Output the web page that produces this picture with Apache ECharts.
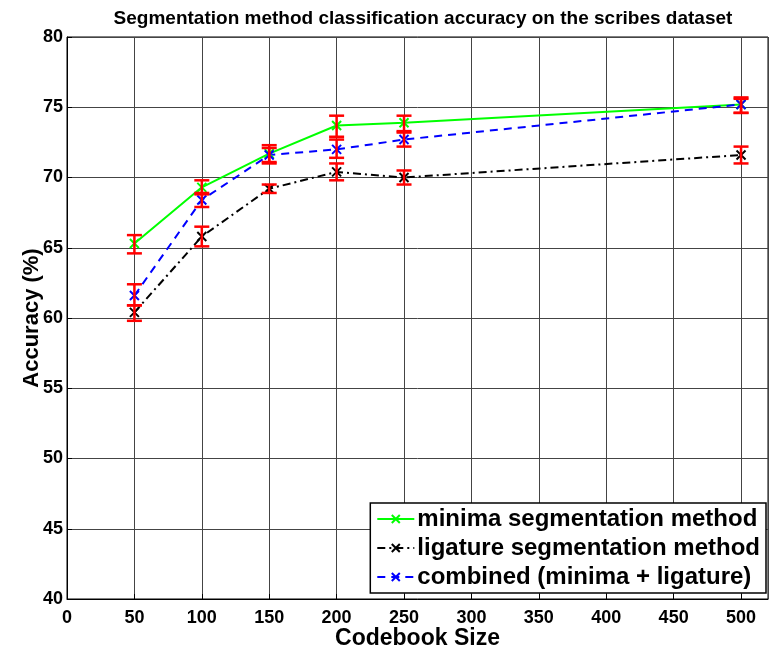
<!DOCTYPE html>
<html>
<head>
<meta charset="utf-8">
<script src="https://cdn.jsdelivr.net/npm/echarts@6/dist/echarts.min.js"></script>
<style>
  html, body { margin: 0; padding: 0; background: #fff; }
  #main { width: 769px; height: 653px; }
</style>
</head>
<body>
<div id="main"></div>
<script>
// codebook sizes (x)
var codebook = [50, 100, 150, 200, 250, 500];

// accuracy values per method
var minimaAcc = [65.3, 69.3, 71.7, 73.7, 73.9, 75.2];
var ligatureAcc = [60.4, 65.8, 69.2, 70.4, 70.0, 71.6];
var combinedAcc = [61.6, 68.4, 71.6, 72.0, 72.7, 75.2];

// error bar ends (low / high)
var minimaLow = [64.6, 68.9, 71.1, 72.9, 73.3, 74.6];
var minimaHigh = [65.9, 69.8, 72.3, 74.4, 74.4, 75.7];
var ligatureLow = [59.8, 65.1, 68.9, 69.8, 69.5, 71.0];
var ligatureHigh = [60.9, 66.5, 69.5, 71.0, 70.5, 72.2];
var combinedLow = [60.9, 67.9, 71.0, 71.4, 72.2, 74.6];
var combinedHigh = [62.4, 68.8, 72.1, 72.7, 73.2, 75.6];

var yTicks = [40, 45, 50, 55, 60, 65, 70, 75, 80];

var crossIcon = 'path://M0,0L10,10M10,0L0,10';
var FONT = 'Liberation Sans';

function pairs(xs, ys) {
    var out = [];
    for (var i = 0; i < xs.length; i++) out.push([xs[i], ys[i]]);
    return out;
}
function errData(xs, lo, hi) {
    var out = [];
    for (var i = 0; i < xs.length; i++) out.push([xs[i], lo[i], hi[i]]);
    return out;
}

/* red error bars with caps */
function renderErr(params, api) {
    var x = api.value(0);
    var lo = api.coord([x, api.value(1)]);
    var hi = api.coord([x, api.value(2)]);
    var w = 7.5;
    var st = { stroke: '#ff0000', lineWidth: 2.5 };
    return {
        type: 'group',
        children: [
            { type: 'line', shape: { x1: lo[0], y1: lo[1], x2: hi[0], y2: hi[1] }, style: st },
            { type: 'line', shape: { x1: lo[0] - w, y1: lo[1], x2: lo[0] + w, y2: lo[1] }, style: st },
            { type: 'line', shape: { x1: hi[0] - w, y1: hi[1], x2: hi[0] + w, y2: hi[1] }, style: st }
        ]
    };
}

function lineSeries(name, data, color, type, width) {
    return {
        name: name,
        type: 'line',
        data: pairs(codebook, data),
        symbol: crossIcon,
        symbolSize: 9,
        z: 3,
        lineStyle: { color: color, width: width, type: type },
        itemStyle: { color: color, borderColor: color, borderWidth: 2 },
        emphasis: { disabled: true }
    };
}

function errSeries(lo, hi) {
    return {
        type: 'custom',
        renderItem: renderErr,
        data: errData(codebook, lo, hi),
        z: 4,
        silent: true
    };
}

var chart = echarts.init(document.getElementById('main'));

var option = {
    backgroundColor: '#fff',
    animation: false,
    title: {
        text: 'Segmentation method classification accuracy on the scribes dataset',
        left: 418,
        textAlign: 'center',
        top: 4,
        textStyle: { fontFamily: FONT, fontWeight: 'bold', fontSize: 19, color: '#000' }
    },
    grid: {
        left: 67, right: 1, top: 37, bottom: 54,
        outerBoundsMode: 'none',
        containLabel: false,
        show: true, borderColor: '#000', borderWidth: 1, backgroundColor: '#fff'
    },
    legend: {
        orient: 'vertical',
        right: 3,
        bottom: 60,
        itemWidth: 37,
        itemHeight: 10,
        itemGap: 5,
        padding: [4, 6, 4, 6],
        backgroundColor: '#fff',
        borderColor: '#000',
        borderWidth: 1.5,
        borderRadius: 0,
        textStyle: { fontFamily: FONT, fontWeight: 'bold', fontSize: 24, lineHeight: 24, color: '#000', padding: [0, 0, 0, -2] },
        data: ['minima segmentation method', 'ligature segmentation method', 'combined (minima + ligature)']
    },
    xAxis: {
        type: 'value',
        min: 0,
        max: 520,
        interval: 50,
        name: 'Codebook Size',
        nameLocation: 'middle',
        nameGap: 28,
        nameMoveOverlap: false,
        nameTextStyle: { fontFamily: FONT, fontWeight: 'bold', fontSize: 23, color: '#000' },
        axisLine: { lineStyle: { color: '#000' } },
        axisTick: { inside: true, length: 5, lineStyle: { color: '#000' } },
        axisLabel: {
            fontFamily: FONT, fontWeight: 'bold', fontSize: 18, color: '#000', margin: 10,
            showMaxLabel: false,
            formatter: function (v) { return v % 50 === 0 ? String(v) : ''; }
        },
        splitLine: { show: true, lineStyle: { color: '#444', width: 1 } }
    },
    yAxis: {
        type: 'value',
        min: yTicks[0],
        max: yTicks[yTicks.length - 1],
        interval: 5,
        name: 'Accuracy (%)',
        nameLocation: 'middle',
        nameGap: 24,
        nameMoveOverlap: false,
        nameTextStyle: { fontFamily: FONT, fontWeight: 'bold', fontSize: 22, color: '#000' },
        axisLine: { show: true, lineStyle: { color: '#000' } },
        axisTick: { show: true, inside: true, length: 5, lineStyle: { color: '#000' } },
        axisLabel: { fontFamily: FONT, fontWeight: 'bold', fontSize: 18, color: '#000', margin: 4 },
        splitLine: { show: true, lineStyle: { color: '#444', width: 1 } }
    },
    series: [
        lineSeries('minima segmentation method', minimaAcc, '#00ff00', 'solid', 2),
        lineSeries('ligature segmentation method', ligatureAcc, '#000000', [8, 4, 2, 4], 2),
        lineSeries('combined (minima + ligature)', combinedAcc, '#0000ff', [8, 6], 2),
        errSeries(minimaLow, minimaHigh),
        errSeries(ligatureLow, ligatureHigh),
        errSeries(combinedLow, combinedHigh)
    ]
};

chart.setOption(option);
</script>
</body>
</html>
